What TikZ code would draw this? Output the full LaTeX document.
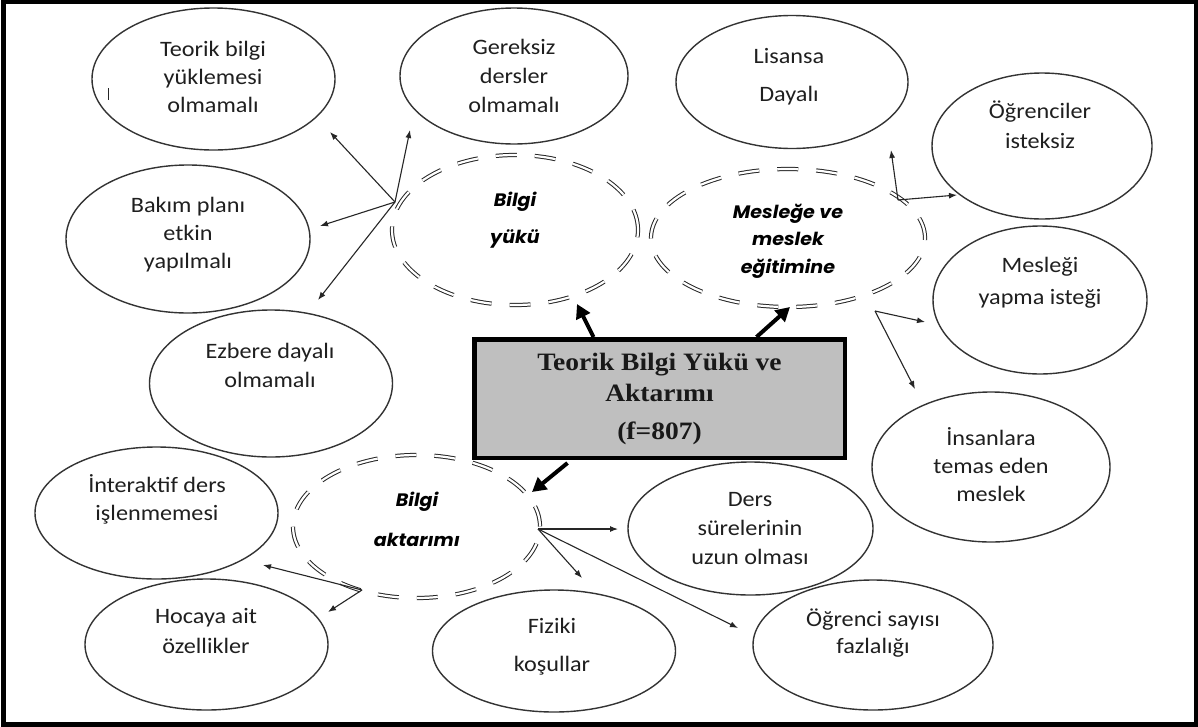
\documentclass[tikz,border=0pt]{standalone}
\usepackage{fontspec}
\setmainfont{Carlito}[FakeStretch=1.1]
\newfontfamily\boxfont{Liberation Serif}[FakeStretch=1.1]
\newfontfamily\dashfont{Poppins}[FakeStretch=1.06]
\usetikzlibrary{shapes.geometric,arrows.meta}
\begin{document}
\begin{tikzpicture}[x=1pt,y=-1pt,
  ell/.style={draw=black!80, line width=1.4pt, ellipse, inner sep=0pt},
  dell/.style={draw=black!85, double=white, double distance=2.2pt, line width=1pt,
               dash pattern=on 21pt off 18pt, ellipse, inner sep=0pt},
  lbl/.style={align=center, inner sep=0pt, text=black!88},
  dlbl/.style={align=center, inner sep=0pt, text=black},
  mainbox/.style={draw=black, line width=4.5pt, fill=black!25, inner sep=0pt, align=center,
               text=black!90, font=\boxfont\bfseries\fontsize{25}{31}\selectfont},
  big/.style={line width=4pt, -{Triangle[length=14pt,width=15pt]}},
  thinarr/.style={line width=1.1pt, draw=black!85, -{Latex[length=8pt,width=6pt]}},
]
\useasboundingbox (0,0) rectangle (1198,726);
\fill[white] (0,0) rectangle (1198,726);
\draw[line width=5pt] (3.5,1.5) rectangle (1196.5,724.5);

% outer ellipses
\node[ell, minimum width=243pt, minimum height=142pt] (e1) at (213.5,79) {};
\node[ell, minimum width=228pt, minimum height=136pt] (e2) at (514,76) {};
\node[ell, minimum width=232pt, minimum height=133pt] (e3) at (792,82) {};
\node[ell, minimum width=220pt, minimum height=146pt] (e4) at (1042,146) {};
\node[ell, minimum width=214pt, minimum height=148pt] (e5) at (1040,300) {};
\node[ell, minimum width=238pt, minimum height=150pt] (e6) at (991,467) {};
\node[ell, minimum width=244pt, minimum height=148pt] (e7) at (188,239) {};
\node[ell, minimum width=243pt, minimum height=147pt] (e8) at (271,383.5) {};
\node[ell, minimum width=243pt, minimum height=132pt] (e9) at (156.5,513) {};
\node[ell, minimum width=243pt, minimum height=131pt] (e10) at (206.5,644.5) {};
\node[ell, minimum width=243pt, minimum height=122pt] (e11) at (554,651) {};
\node[ell, minimum width=245pt, minimum height=133pt] (e12) at (750.5,528.5) {};
\node[ell, minimum width=240pt, minimum height=130pt] (e13) at (873,645) {};

% labels of outer ellipses
\node[lbl, font=\fontsize{22}{28}\selectfont] (t1) at (213,77) {Teorik bilgi\\yüklemesi\\olmamalı};
\node[lbl, font=\fontsize{22}{29}\selectfont] (t2) at (514,76) {Gereksiz\\dersler\\olmamalı};
\node[lbl, font=\fontsize{22}{38}\selectfont] (t3) at (789,77) {Lisansa\\Dayalı};
\node[lbl, font=\fontsize{22}{30}\selectfont] (t4) at (1040,125) {Öğrenciler\\isteksiz};
\node[lbl, font=\fontsize{22}{32}\selectfont] (t5) at (1040,283) {Mesleği\\yapma isteği};
\node[lbl, font=\fontsize{22}{28}\selectfont] (t6) at (991,465) {İnsanlara\\temas eden\\meslek};
\node[lbl, font=\fontsize{22}{28}\selectfont] (t7) at (188,235) {Bakım planı\\etkin\\yapılmalı};
\node[lbl, font=\fontsize{22}{29}\selectfont] (t8) at (270,365) {Ezbere dayalı\\olmamalı};
\node[lbl, font=\fontsize{22}{28}\selectfont] (t9) at (157,499) {İnteraktif ders\\işlenmemesi};
\node[lbl, font=\fontsize{22}{30}\selectfont] (t10) at (206,631) {Hocaya ait\\özellikler};
\node[lbl, font=\fontsize{22}{38}\selectfont] (t11) at (552,647) {Fiziki\\koşullar};
\node[lbl, font=\fontsize{22}{29}\selectfont] (t12) at (750,529) {Ders\\sürelerinin\\uzun olması};
\node[lbl, font=\fontsize{22}{27}\selectfont] (t13) at (873,633) {Öğrenci sayısı\\fazlalığı};

% stray mark
\draw[line width=1pt, black!85] (108,88) -- (108,100);

% dashed double ellipses
\node[dell, minimum width=246pt, minimum height=150pt] (A) at (515,230) {};
\node[dell, minimum width=274pt, minimum height=138pt] (B) at (788,238) {};
\node[dell, minimum width=247pt, minimum height=143pt] (C) at (416.5,526.5) {};
\node[dlbl, font=\dashfont\bfseries\itshape\fontsize{18}{37}\selectfont] (dA) at (515,220) {Bilgi\\yükü};
\node[dlbl, font=\dashfont\bfseries\itshape\fontsize{18}{27.5}\selectfont] (dB) at (788,241) {Mesleğe ve\\meslek\\eğitimine};
\node[dlbl, font=\dashfont\bfseries\itshape\fontsize{18}{40}\selectfont] (dC) at (417,519) {Bilgi\\aktarımı};

% central box
\node[mainbox, minimum width=370.5pt, minimum height=118.5pt] (box) at (659.5,398.5)
  {Teorik Bilgi Yükü ve\\Aktarımı\\[7pt](f=807)};

% thick arrows
\coordinate (tA) at (577,304);
\coordinate (tB) at (790,307);
\coordinate (tC) at (532,492);
\draw[big] ([xshift=-66pt]box.north) -- (tA);
\draw[big] ([xshift=97pt]box.north) -- (tB);
\draw[big] ([xshift=-92pt,yshift=-3pt]box.south) -- (tC);

% branch points
\coordinate (p1) at (395,202);
\coordinate (p2) at (898,200);
\coordinate (p3) at (875,311);
\coordinate (p4) at (538,529);
\coordinate (p5) at (362,590);
% arrow tips
\coordinate (a11) at (330,132);
\coordinate (a12) at (410,130);
\coordinate (a13) at (320,226);
\coordinate (a14) at (318,300);
\coordinate (a21) at (891,150);
\coordinate (a22) at (957,195);
\coordinate (a31) at (925,322);
\coordinate (a32) at (915,389);
\coordinate (a41) at (618,529);
\coordinate (a42) at (582,578);
\coordinate (a43) at (738,628);
\coordinate (a51) at (263,565);
\coordinate (a52) at (328,612);

\draw[thinarr] (p1) -- (a11);
\draw[thinarr] (p1) -- (a12);
\draw[thinarr] (p1) -- (a13);
\draw[thinarr] (p1) -- (a14);
\draw[thinarr] (p2) -- (a21);
\draw[thinarr] (p2) -- (a22);
\draw[thinarr] (p3) -- (a31);
\draw[thinarr] (p3) -- (a32);
\draw[thinarr] (p4) -- (a41);
\draw[thinarr] (p4) -- (a42);
\draw[thinarr] (p4) -- (a43);
\draw[thinarr] (p5) -- (a51);
\draw[thinarr] (p5) -- (a52);
\end{tikzpicture}
\end{document}
